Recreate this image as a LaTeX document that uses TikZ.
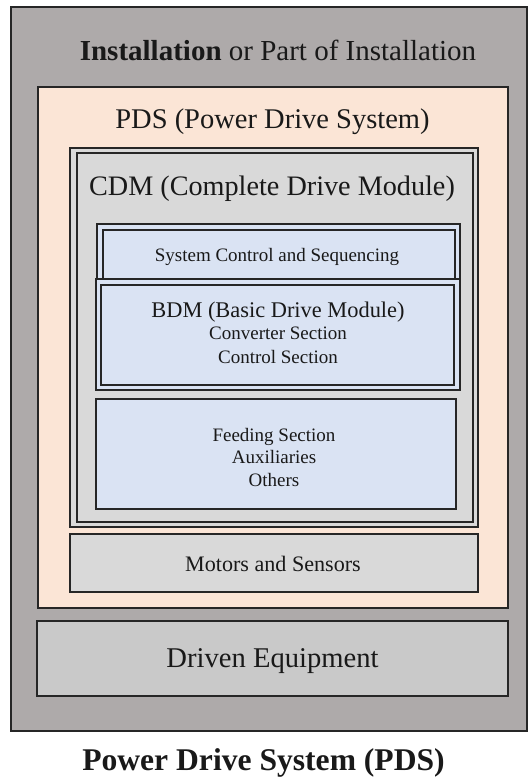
\documentclass[tikz,border=0pt]{standalone}
\usepackage{fontspec}
\setmainfont{LiberationSerif}[Extension=.ttf, UprightFont=*-Regular, BoldFont=*-Bold, ItalicFont=*-Italic, BoldItalicFont=*-BoldItalic]
\definecolor{outergray}{HTML}{AEAAAA}
\definecolor{peach}{HTML}{FBE5D6}
\definecolor{cdmgray}{HTML}{D9D9D9}
\definecolor{lblue}{HTML}{DAE3F3}
\definecolor{drivengray}{HTML}{C9C9C9}
\definecolor{edge}{HTML}{262626}
\begin{document}
\begin{tikzpicture}[x=1pt,y=-1pt,
  box/.style={draw=edge, line width=1.4pt},
  thinbox/.style={draw=edge, line width=1.1pt},
  lbl/.style={anchor=base, inner sep=0pt, text=black!90}]
\useasboundingbox (0,0) rectangle (528,777);
\fill[white] (0,0) rectangle (528,777);
% installation
\draw[box, fill=outergray] (11,7) rectangle (527,731);
\node[lbl] (inst) at (278,60) {\fontsize{29}{34}\selectfont\textbf{Installation} or Part of Installation};
% PDS
\draw[box, fill=peach] (38,87) rectangle (508,608);
\node[lbl] (pds) at (272.5,128) {\fontsize{28.5}{34}\selectfont PDS (Power Drive System)};
% CDM
\draw[thinbox, fill=cdmgray] (70,148) rectangle (478,527);
\draw[thinbox, fill=cdmgray] (77,153) rectangle (473,522);
\node[lbl] (cdm) at (272,195) {\fontsize{28.2}{34}\selectfont CDM (Complete Drive Module)};
% System control
\draw[thinbox, fill=lblue] (97,224) rectangle (460,279);
\draw[thinbox, fill=lblue] (103,230) rectangle (455,279);
\node[lbl] (scs) at (277,261) {\fontsize{19}{23}\selectfont System Control and Sequencing};
% BDM
\draw[thinbox, fill=lblue] (96,279) rectangle (460,390);
\draw[thinbox, fill=lblue] (101,285) rectangle (454,385);
\node[lbl] (bdm) at (278,317) {\fontsize{22.4}{27}\selectfont BDM (Basic Drive Module)};
\node[lbl] (conv) at (278,339) {\fontsize{19}{23}\selectfont Converter Section};
\node[lbl] (ctrl) at (278,363) {\fontsize{19}{23}\selectfont Control Section};
% Feeding
\draw[box, fill=lblue] (96,399) rectangle (456,509);
\node[lbl] (feed) at (274,441) {\fontsize{19}{23}\selectfont Feeding Section};
\node[lbl] (aux) at (274,463) {\fontsize{19}{23}\selectfont Auxiliaries};
\node[lbl] (oth) at (274,486) {\fontsize{19}{23}\selectfont Others};
% Motors
\draw[box, fill=cdmgray] (70,534) rectangle (478,592);
\node[lbl] (mot) at (273,571) {\fontsize{22.1}{27}\selectfont Motors and Sensors};
% Driven
\draw[box, fill=drivengray] (37,621) rectangle (508,696);
\node[lbl] (drv) at (272.5,667) {\fontsize{28.6}{34}\selectfont Driven Equipment};
% caption
\node[lbl] (cap) at (263.5,770) {\fontsize{31.6}{38}\selectfont\bfseries Power Drive System (PDS)};
\end{tikzpicture}
\end{document}
